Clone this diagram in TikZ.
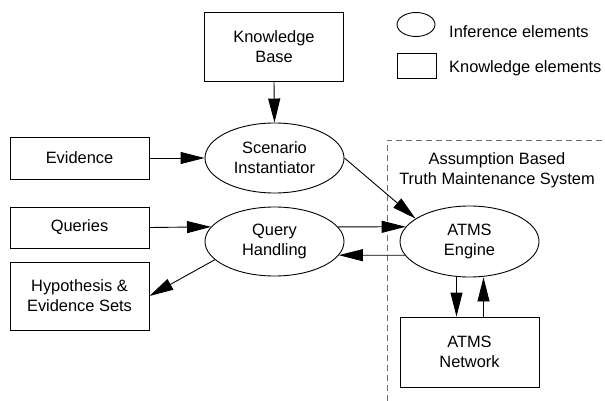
\documentclass[tikz,border=0pt]{standalone}
\usepackage{fontspec}
\setmainfont{Liberation Sans}
\usetikzlibrary{shapes.geometric,arrows.meta}
\definecolor{framegray}{RGB}{110,110,110}
\begin{document}
\begin{tikzpicture}[x=1pt,y=-1pt,
  every node/.style={font=\fontsize{16.4}{20}\selectfont},
  kbox/.style={draw,rectangle,minimum width=139pt,inner sep=0pt,align=center,line width=0.9pt},
  ibox/.style={draw,ellipse,minimum width=139pt,minimum height=70pt,inner sep=0pt,align=center,line width=0.9pt},
  arr/.style={line width=0.9pt,-{Triangle[length=24pt,width=12pt]}}]
\useasboundingbox (0,0) rectangle (605,401);

% ATMS boundary
\draw[framegray,dash pattern=on 6pt off 4pt,line width=0.9pt] (387,401) -- (387,140) -- (605,140);
\node[align=center] (atmslabel) at (497,170) {Assumption Based\\Truth Maintenance System};

% legend
\node[draw,ellipse,minimum width=38pt,minimum height=24pt,inner sep=0pt,line width=0.9pt] (legi) at (416,24.5) {};
\node[draw,minimum width=39pt,minimum height=25pt,inner sep=0pt,line width=0.9pt] (legk) at (416.5,65.5) {};
\node[anchor=base west,inner sep=0pt] (legitext) at (449,38) {Inference elements};
\node[anchor=base west,inner sep=0pt] (legktext) at (449,73) {Knowledge elements};

% knowledge elements
\node[kbox,minimum height=69pt] (kb) at (274,46.5) {Knowledge\\Base};
\node[kbox,minimum height=42pt] (evid) at (79.5,158) {Evidence};
\node[kbox,minimum height=41pt] (quer) at (79.5,227.5) {Queries};
\node[kbox,minimum height=68pt] (hyp) at (79.5,296) {Hypothesis \&\\Evidence Sets};
\node[kbox,minimum height=70pt] (net) at (469.5,352) {ATMS\\Network};

% inference elements
\node[ibox] (scen) at (274.5,158) {Scenario\\Instantiator};
\node[ibox,minimum height=69pt] (qh) at (274.5,241.5) {Query\\Handling};
\node[ibox,minimum height=71pt] (atms) at (469.5,241.5) {ATMS\\Engine};

% connectors
\draw[arr] (kb.south) -- (scen.north);
\draw[arr] (evid.east) -- (scen.west);
\draw[arr] (quer.east) -- (qh.167);
\draw[arr] (qh.197) -- (hyp.east);
\draw[arr] (scen.east) -- (atms.157);
\draw[arr] (qh.13) -- (atms.167);
\draw[arr] (atms.192) -- (qh.-12);
\draw[arr] ([xshift=-13pt]atms.south) -- ([xshift=-13pt]net.north);
\draw[arr] ([xshift=14pt]net.north) -- ([xshift=14pt]atms.south);
\end{tikzpicture}
\end{document}
